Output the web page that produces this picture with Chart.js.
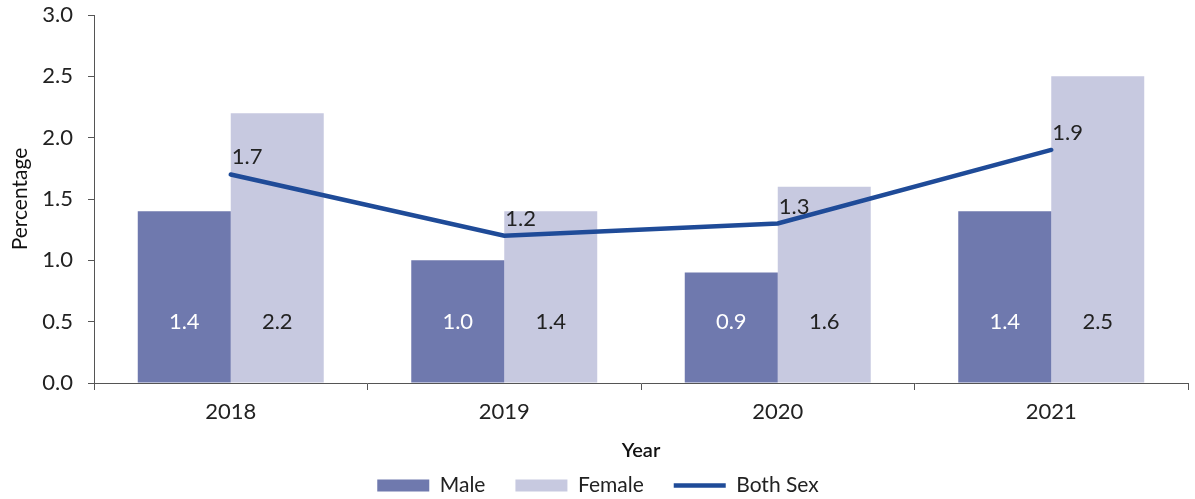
<!DOCTYPE html>
<html>
<head>
<meta charset="utf-8">
<script src="https://cdn.jsdelivr.net/npm/chart.js@4/dist/chart.umd.min.js"></script>
<style>
  html, body { margin: 0; padding: 0; background: #fff; }
  #wrap { width: 1195px; height: 499px; }
</style>
</head>
<body>
<div id="wrap"><canvas id="sexChart"></canvas></div>
<script>
// data
var years = ["2018", "2019", "2020", "2021"];
var male = [1.4, 1.0, 0.9, 1.4];
var female = [2.2, 1.4, 1.6, 2.5];
var bothSex = [1.7, 1.2, 1.3, 1.9];
var yTicks = [0, 0.5, 1.0, 1.5, 2.0, 2.5, 3.0];

var fontName = "Lato, 'Noto Sans', sans-serif";
Chart.defaults.font.family = fontName;
Chart.defaults.font.size = 22;
Chart.defaults.color = "#222";

// value labels on bars and line
var valueLabels = {
    id: "valueLabels",
    afterDatasetsDraw: function (chart) {
        var ctx = chart.ctx;
        var yScale = chart.scales.y;
        ctx.save();
        ctx.font = "22px " + fontName;
        chart.data.datasets.forEach(function (ds, i) {
            var meta = chart.getDatasetMeta(i);
            meta.data.forEach(function (el, j) {
                var txt = ds.data[j].toFixed(1);
                if (ds.type === "line") {
                    ctx.fillStyle = "#222";
                    ctx.textAlign = "left";
                    ctx.textBaseline = "alphabetic";
                    ctx.fillText(txt, el.x + 1, el.y - 10);
                } else {
                    ctx.fillStyle = ds.label === "Male" ? "#ffffff" : "#222";
                    ctx.textAlign = "center";
                    ctx.textBaseline = "middle";
                    ctx.fillText(txt, el.x, yScale.getPixelForValue(0.5));
                }
            });
        });
        ctx.restore();
    }
};

// keep the wide gaps between legend items but a shorter legend box
var legendTrim = {
    id: "legendTrim",
    afterInit: function (chart) {
        var lg = chart.legend;
        if (!lg) return;
        var fit = lg.fit;
        lg.fit = function () {
            fit.call(this);
            this.height = 54;
        };
    }
};

var canvasElement = document.getElementById("sexChart");
var config = {
    type: "bar",
    data: {
        labels: years,
        datasets: [{
            type: "line",
            label: "Both Sex",
            data: bothSex,
            borderColor: "#1f4b98",
            backgroundColor: "#1f4b98",
            borderWidth: 4.5,
            borderCapStyle: "round",
            pointRadius: 0,
            pointHoverRadius: 0,
            tension: 0,
            order: 0
        }, {
            label: "Male",
            data: male,
            backgroundColor: "#6f79ae",
            borderWidth: 0,
            categoryPercentage: 0.68,
            barPercentage: 1.0,
            order: 1
        }, {
            label: "Female",
            data: female,
            backgroundColor: "#c7c9e0",
            borderWidth: 0,
            categoryPercentage: 0.68,
            barPercentage: 1.0,
            order: 1
        }]
    },
    options: {
        responsive: true,
        maintainAspectRatio: false,
        animation: false,
        layout: { padding: { top: 15, right: 7, left: 8, bottom: 0 } },
        plugins: {
            tooltip: { enabled: false },
            legend: {
                position: "bottom",
                labels: {
                    usePointStyle: true,
                    pointStyleWidth: 52,
                    boxHeight: 12,
                    padding: 30,
                    color: "#222",
                    font: { size: 21 },
                    generateLabels: function (chart) {
                        var items = Chart.defaults.plugins.legend.labels.generateLabels(chart);
                        items.forEach(function (it) {
                            it.pointStyle = chart.data.datasets[it.datasetIndex].type === "line" ? "line" : "rect";
                        });
                        // Male, Female, Both Sex
                        items.sort(function (a, b) {
                            var oa = a.datasetIndex === 0 ? 9 : a.datasetIndex;
                            var ob = b.datasetIndex === 0 ? 9 : b.datasetIndex;
                            return oa - ob;
                        });
                        return items;
                    }
                }
            }
        },
        scales: {
            x: {
                offset: true,
                afterFit: function (axis) {
                    axis.height = 62;
                    axis.paddingLeft = 0;
                    axis.paddingRight = 0;
                },
                grid: {
                    offset: true,
                    drawOnChartArea: false,
                    drawTicks: true,
                    tickLength: 7,
                    color: "#555"
                },
                border: { color: "#555", width: 1 },
                ticks: { padding: 9, color: "#222", font: { size: 22 } },
                title: {
                    display: true,
                    text: "Year",
                    color: "#111",
                    font: { size: 20, weight: "600" },
                    padding: { top: 14, bottom: -18 }
                }
            },
            y: {
                min: 0,
                max: 3,
                afterBuildTicks: function (axis) {
                    axis.ticks = yTicks.map(function (v) { return { value: v }; });
                },
                afterFit: function (axis) {
                    axis.width = 86;
                    axis.paddingTop = 0;
                    axis.paddingBottom = 0;
                },
                grid: {
                    drawOnChartArea: false,
                    drawTicks: true,
                    tickLength: 6,
                    color: "#555"
                },
                border: { color: "#555", width: 1 },
                ticks: {
                    padding: 15,
                    color: "#222",
                    font: { size: 22 },
                    callback: function (v) { return Number(v).toFixed(1); }
                },
                title: {
                    display: true,
                    text: "Percentage",
                    color: "#111",
                    font: { size: 21 },
                    padding: { top: 0, bottom: 7 }
                }
            }
        }
    },
    plugins: [valueLabels, legendTrim]
};

var barChart = new Chart(canvasElement, config);
</script>
</body>
</html>
